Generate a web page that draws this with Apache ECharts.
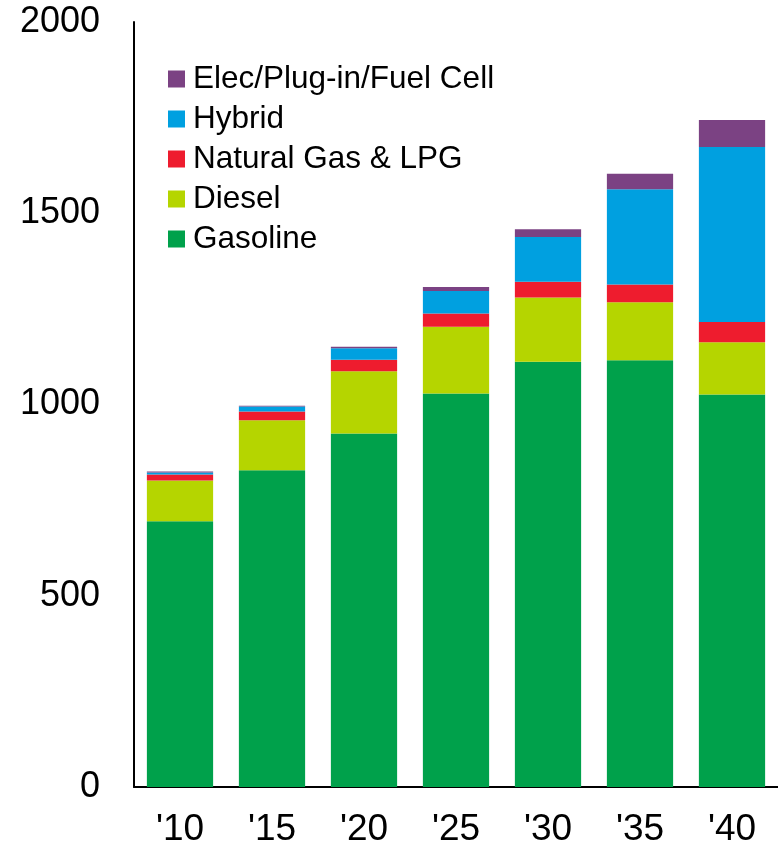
<!DOCTYPE html>
<html>
<head>
<meta charset="utf-8">
<script src="https://cdn.jsdelivr.net/npm/echarts@6/dist/echarts.min.js"></script>
<style>
html,body{margin:0;padding:0;background:#fff;}
#chart{width:778px;height:848px;}
</style>
</head>
<body>
<div id="chart"></div>
<script>
const categories = ["'10", "'15", "'20", "'25", "'30", "'35", "'40"];
const gasoline = [695, 828, 924, 1029, 1112, 1116, 1026];
const diesel = [106, 131, 163, 174, 168, 151, 137];
const natGas = [16, 23, 30, 35, 41, 47, 53];
const hybrid = [5, 13, 30, 59, 117, 249, 457];
const elec = [3, 2, 4, 10, 20, 40, 71];
const yTicks = [0, 500, 1000, 1500, 2000];

const names = ['Gasoline', 'Diesel', 'Natural Gas & LPG', 'Hybrid', 'Elec/Plug-in/Fuel Cell'];
const colors = ['#00A14B', '#B5D500', '#EE1C2E', '#00A0E0', '#7B4283'];
const values = [gasoline, diesel, natGas, hybrid, elec];

const chart = echarts.init(document.getElementById('chart'));
chart.setOption({
  animation: false,
  textStyle: { fontFamily: 'Liberation Sans, Arial, sans-serif' },
  grid: { left: 134, right: 0, top: 22, bottom: 60 },
  legend: {
    orient: 'vertical',
    left: 163,
    top: 58,
    itemWidth: 17,
    itemHeight: 17,
    itemGap: 8,
    icon: 'rect',
    data: names.slice().reverse(),
    textStyle: { fontSize: 31.5, color: '#000', padding: [0, 0, 0, 3] }
  },
  xAxis: {
    type: 'category',
    data: categories,
    axisLine: { lineStyle: { color: '#000', width: 2 } },
    axisTick: { show: false },
    axisLabel: { fontSize: 37, color: '#000', margin: 24 }
  },
  yAxis: {
    type: 'value',
    min: yTicks[0],
    max: yTicks[yTicks.length - 1],
    interval: 500,
    axisLine: { show: true, lineStyle: { color: '#000', width: 2 } },
    axisTick: { show: false },
    splitLine: { show: false },
    axisLabel: { fontSize: 36, color: '#000', margin: 34, formatter: v => String(v) }
  },
  series: names.map((n, i) => ({
    name: n,
    type: 'bar',
    stack: 'total',
    barCategoryGap: '28%',
    itemStyle: { color: colors[i] },
    data: values[i]
  }))
});
</script>
</body>
</html>
